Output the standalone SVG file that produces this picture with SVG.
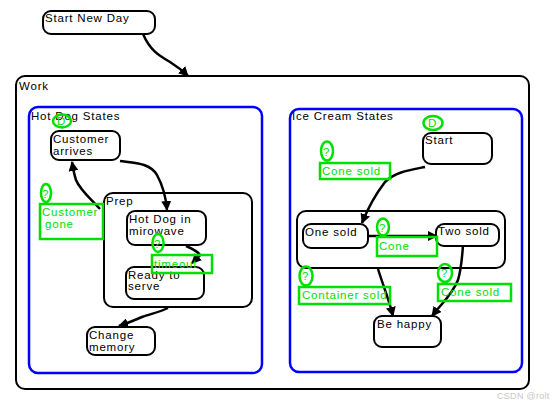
<svg xmlns="http://www.w3.org/2000/svg" width="556" height="407" viewBox="0 0 556 407">
<style>
text{font-family:"Liberation Sans",Arial,sans-serif;font-size:11.5px;letter-spacing:0.8px;fill:#000}
.st{fill:#fff;stroke:#000;stroke-width:2}
.reg{fill:#fff;stroke:#0000ff;stroke-width:2.5}
.g{fill:none;stroke:#00e000;stroke-width:2.5}
.gt{fill:#00e000}
.c{fill:none;stroke:#000;stroke-width:2.5;marker-end:url(#ah)}
</style>
<defs>
<marker id="ah" viewBox="0 0 10 10" refX="9" refY="5" markerWidth="4" markerHeight="4" orient="auto" markerUnits="strokeWidth">
<path d="M0,0 L10,5 L0,10 z" fill="#000"/>
</marker>
</defs>
<rect width="556" height="407" fill="#fff"/>
<g id="work"><rect class="st" x="16" y="76" width="513" height="313" rx="9"/><text x="19" y="90">Work</text></g>
<g id="start-new-day"><rect class="st" x="43" y="11" width="112" height="23" rx="8"/><text x="45" y="22">Start New Day</text></g>
<g id="hot-dog-states"><rect class="reg" x="29" y="107" width="233" height="266" rx="9"/><text x="31" y="120">Hot Dog States</text></g>
<g id="ice-cream-states"><rect class="reg" x="290" y="109" width="232" height="263" rx="9"/><text x="292" y="120">Ice Cream States</text></g>
<g id="prep"><rect class="st" x="104" y="193" width="148" height="114" rx="9"/><text x="106" y="205">Prep</text></g>
<g id="sold-group"><rect class="st" x="297" y="211" width="208" height="57" rx="9"/></g>
<g id="customer-arrives"><rect class="st" x="51" y="131" width="69" height="29" rx="8"/><text x="53" y="143">Customer</text><text x="53" y="155">arrives</text></g>
<g id="hot-dog-mirowave"><rect class="st" x="127" y="211" width="79" height="34" rx="8"/><text x="129" y="223">Hot Dog in</text><text x="129" y="235">mirowave</text></g>
<g id="ready-to-serve"><rect class="st" x="126" y="267" width="78" height="32" rx="8"/><text x="128" y="279">Ready to</text><text x="128" y="290">serve</text></g>
<g id="change-memory"><rect class="st" x="87" y="327" width="68" height="28" rx="8"/><text x="89" y="339">Change</text><text x="89" y="351">memory</text></g>
<g id="start"><rect class="st" x="423" y="133" width="69" height="31" rx="8"/><text x="425" y="144">Start</text></g>
<g id="one-sold"><rect class="st" x="303" y="224" width="65" height="24" rx="8"/><text x="305" y="236">One sold</text></g>
<g id="two-sold"><rect class="st" x="436" y="224" width="63" height="22" rx="8"/><text x="438" y="235">Two sold</text></g>
<g id="be-happy"><rect class="st" x="374" y="316" width="67" height="31" rx="8"/><text x="377" y="328">Be happy</text></g>
<g id="connectors">
<path class="c" d="M143,34 C150,50 158,55 170,62 C178,67 183,71 188,76"/>
<path class="c" d="M120,161 C135,163 150,163 157,175 C163,186 166,198 167,210"/>
<path class="c" d="M100,209 C90,198 80,190 76,180 C74,174 73,168 72,162"/>
<path class="c" d="M186,246 C193,249 198,252 200,255 C198,258 195,260 192,263"/>
<path class="c" d="M168,308 C160,312 150,314 142,317 C135,320 128,323 119,326"/>
<path class="c" d="M425,167 C410,170 395,172 385,182 C375,195 368,208 362,223"/>
<path class="c" d="M368,236 L437,236"/>
<path class="c" d="M378,269 C383,285 389,300 393,316"/>
<path class="c" d="M463,245 C462,260 461,270 458,280 C452,295 442,303 432,316"/>
</g>
<g id="hd-initial"><ellipse class="g" cx="62" cy="121" rx="9" ry="6.5"/><text class="gt" x="57" y="125">D</text></g>
<g id="ic-initial"><ellipse class="g" cx="433" cy="123" rx="9.5" ry="7"/><text class="gt" x="428" y="127">D</text></g>
<g id="guard-customer-gone"><ellipse class="g" cx="46" cy="193" rx="5" ry="9"/><text class="gt" x="42" y="198">?</text><rect class="g" x="40" y="204" width="63" height="35"/><text class="gt" x="42" y="216">Customer</text><text class="gt" x="45" y="228">gone</text></g>
<g id="guard-timeout"><ellipse class="g" cx="158" cy="243" rx="5.5" ry="9"/><text class="gt" x="154" y="248">?</text><rect class="g" x="152" y="255" width="60" height="18"/><text class="gt" x="154" y="268">timeout</text></g>
<g id="guard-cone-sold-1"><ellipse class="g" cx="327" cy="151" rx="6" ry="9.5"/><text class="gt" x="323" y="156">?</text><rect class="g" x="320" y="163" width="70" height="16"/><text class="gt" x="322" y="175">Cone sold</text></g>
<g id="guard-cone"><ellipse class="g" cx="383" cy="227" rx="6" ry="8.5"/><text class="gt" x="379" y="232">?</text><rect class="g" x="377" y="237" width="60" height="19"/><text class="gt" x="379" y="250">Cone</text></g>
<g id="guard-container-sold"><ellipse class="g" cx="306" cy="276" rx="6.5" ry="9.5"/><text class="gt" x="302" y="280">?</text><rect class="g" x="299" y="287" width="91" height="17"/><text class="gt" x="302" y="299">Container sold</text></g>
<g id="guard-cone-sold-2"><ellipse class="g" cx="445" cy="273" rx="7" ry="9"/><text class="gt" x="441" y="277">?</text><rect class="g" x="438" y="284" width="73" height="17"/><text class="gt" x="441" y="296">Cone sold</text></g>
<text x="497" y="399" style="font-size:9px;letter-spacing:0.3px;fill:#c8c8c8">CSDN @rolt</text>
</svg>
